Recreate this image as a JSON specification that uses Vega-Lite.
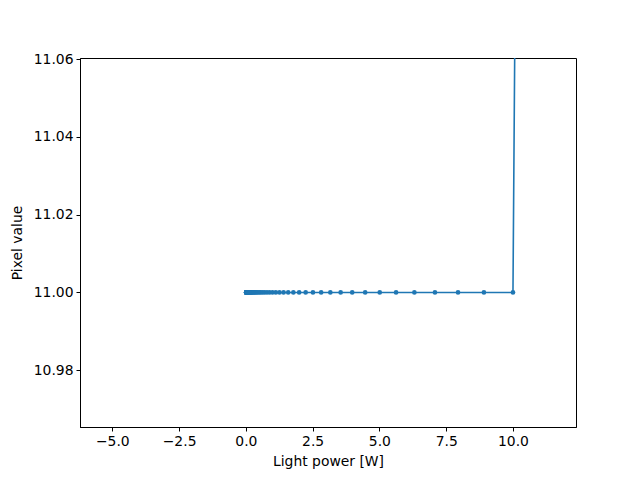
{
  "$schema": "https://vega.github.io/schema/vega-lite/v6.json",
  "width": 496,
  "height": 369,
  "autosize": {"type": "none"},
  "padding": {"left": 80, "top": 58, "right": 64, "bottom": 53},
  "background": "white",
  "config": {
    "view": {"stroke": "black", "strokeWidth": 1},
    "font": "DejaVu Sans",
    "axis": {
      "grid": false,
      "domainColor": "black",
      "tickColor": "black",
      "tickSize": 4,
      "labelColor": "black",
      "titleColor": "black",
      "labelFontSize": 13.9,
      "titleFontSize": 13.9,
      "titleFontWeight": "normal",
      "labelFont": "DejaVu Sans",
      "titleFont": "DejaVu Sans"
    }
  },
  "data": {
    "values": [
      {"power": 0.01, "pixel": 11.0},
      {"power": 0.0112, "pixel": 11.0},
      {"power": 0.0126, "pixel": 11.0},
      {"power": 0.0141, "pixel": 11.0},
      {"power": 0.0158, "pixel": 11.0},
      {"power": 0.0178, "pixel": 11.0},
      {"power": 0.02, "pixel": 11.0},
      {"power": 0.0224, "pixel": 11.0},
      {"power": 0.0251, "pixel": 11.0},
      {"power": 0.0282, "pixel": 11.0},
      {"power": 0.0316, "pixel": 11.0},
      {"power": 0.0355, "pixel": 11.0},
      {"power": 0.0398, "pixel": 11.0},
      {"power": 0.0447, "pixel": 11.0},
      {"power": 0.0501, "pixel": 11.0},
      {"power": 0.0562, "pixel": 11.0},
      {"power": 0.0631, "pixel": 11.0},
      {"power": 0.0708, "pixel": 11.0},
      {"power": 0.0794, "pixel": 11.0},
      {"power": 0.0891, "pixel": 11.0},
      {"power": 0.1, "pixel": 11.0},
      {"power": 0.1122, "pixel": 11.0},
      {"power": 0.1259, "pixel": 11.0},
      {"power": 0.1413, "pixel": 11.0},
      {"power": 0.1585, "pixel": 11.0},
      {"power": 0.1778, "pixel": 11.0},
      {"power": 0.1995, "pixel": 11.0},
      {"power": 0.2239, "pixel": 11.0},
      {"power": 0.2512, "pixel": 11.0},
      {"power": 0.2818, "pixel": 11.0},
      {"power": 0.3162, "pixel": 11.0},
      {"power": 0.3548, "pixel": 11.0},
      {"power": 0.3981, "pixel": 11.0},
      {"power": 0.4467, "pixel": 11.0},
      {"power": 0.5012, "pixel": 11.0},
      {"power": 0.5623, "pixel": 11.0},
      {"power": 0.631, "pixel": 11.0},
      {"power": 0.7079, "pixel": 11.0},
      {"power": 0.7943, "pixel": 11.0},
      {"power": 0.8913, "pixel": 11.0},
      {"power": 1.0, "pixel": 11.0},
      {"power": 1.122, "pixel": 11.0},
      {"power": 1.2589, "pixel": 11.0},
      {"power": 1.4125, "pixel": 11.0},
      {"power": 1.5849, "pixel": 11.0},
      {"power": 1.7783, "pixel": 11.0},
      {"power": 1.9953, "pixel": 11.0},
      {"power": 2.2387, "pixel": 11.0},
      {"power": 2.5119, "pixel": 11.0},
      {"power": 2.8184, "pixel": 11.0},
      {"power": 3.1623, "pixel": 11.0},
      {"power": 3.5481, "pixel": 11.0},
      {"power": 3.9811, "pixel": 11.0},
      {"power": 4.4668, "pixel": 11.0},
      {"power": 5.0119, "pixel": 11.0},
      {"power": 5.6234, "pixel": 11.0},
      {"power": 6.3096, "pixel": 11.0},
      {"power": 7.0795, "pixel": 11.0},
      {"power": 7.9433, "pixel": 11.0},
      {"power": 8.9125, "pixel": 11.0},
      {"power": 10.0, "pixel": 11.0},
      {"power": 10.5, "pixel": 11.47}
    ]
  },
  "encoding": {
    "x": {
      "field": "power",
      "type": "quantitative",
      "title": "Light power [W]",
      "scale": {"domain": [-6.21, 12.36], "nice": false, "zero": false},
      "axis": {"values": [-5, -2.5, 0, 2.5, 5, 7.5, 10], "format": ".1f", "labelPadding": 3, "titlePadding": 7}
    },
    "y": {
      "field": "pixel",
      "type": "quantitative",
      "title": "Pixel value",
      "scale": {"domain": [10.9654, 11.0603], "nice": false, "zero": false},
      "axis": {"values": [10.98, 11.0, 11.02, 11.04, 11.06], "format": ".2f", "labelPadding": 3, "titlePadding": 9}
    }
  },
  "layer": [
    {"mark": {"type": "line", "color": "#1f77b4", "strokeWidth": 1.6, "clip": true}},
    {"mark": {"type": "point", "filled": true, "color": "#1f77b4", "opacity": 1, "size": 22, "clip": true}}
  ]
}
